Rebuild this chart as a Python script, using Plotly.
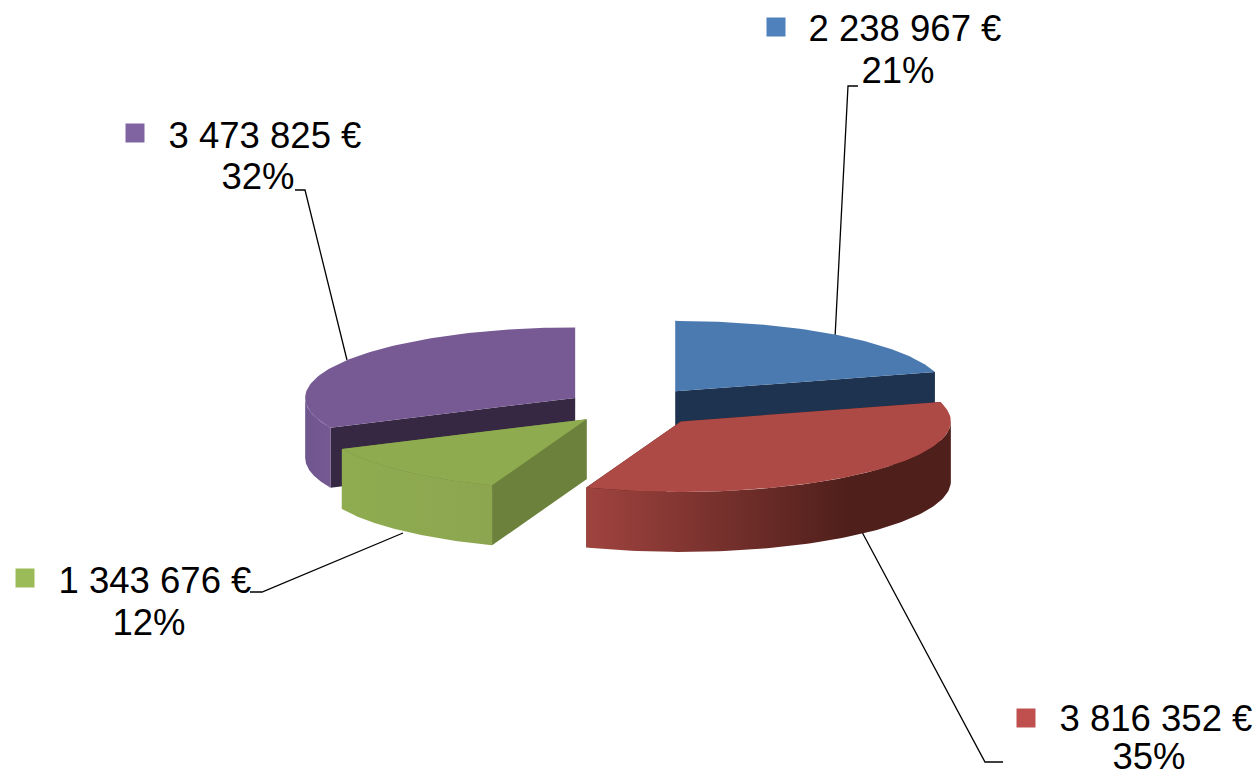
import numpy as np
import plotly.graph_objects as go

# Budget split shown as an exploded, tilted pie
values = [2238967, 3816352, 1343676, 3473825]
percent_labels = ["21%", "35%", "12%", "32%"]

top_colors = ["#4a7ab0", "#ae4a45", "#8eab50", "#775a94"]
cut_colors = ["#1d334f", "#4f1f1b", "#6c813c", "#362842"]
key_colors = ["#4f81bd", "#c0504d", "#9bbb59", "#8064a2"]
side_scales = [
    [[0, "#2f4d73"], [1, "#2f4d73"]],
    [[0, "#a0433f"], [0.72, "#4f1f1b"], [1, "#4f1f1b"]],
    [[0, "#8fac50"], [1, "#8ca650"]],
    [[0, "#70568f"], [1, "#745993"]],
]

# Pie geometry, in page pixels
CENTER = (630, 407)
RX, RY = 270, 70.5
DEPTH = 60
PULL = [75, 75, 64, 65]

# Value text centre, percent text centre, key square, leader polyline
value_pos = [(905, 32), (1156, 722), (155, 584), (265, 139)]
percent_pos = [(898, 74), (1149, 760), (149, 626), (258, 180)]
key_pos = [(776, 27), (1026, 718), (25, 578), (135, 133)]
leaders = [
    ([858, 848, 835], [86, 86, 338]),
    ([1003, 985, 862], [762, 762, 532]),
    ([250, 262, 403], [592, 592, 533]),
    ([295, 305, 347], [190, 190, 360]),
]


def rim(cx, cy, a0, a1, n=90):
    """Points on the ellipse, angles in degrees clockwise from 12 o'clock."""
    t = np.radians(np.linspace(a0, a1, n))
    return cx + RX * np.sin(t), cy - RY * np.cos(t)


def polygon(x, y, **kwargs):
    return go.Scatter(
        x=x, y=y, mode="lines", fill="toself", line=dict(width=0),
        hoverinfo="skip", showlegend=False, **kwargs,
    )


fig = go.Figure()

for xs, ys in leaders:
    fig.add_trace(go.Scatter(x=xs, y=ys, mode="lines", line=dict(color="#000000", width=1.3),
                             hoverinfo="skip", showlegend=False))

total = sum(values)
edges = np.concatenate([[0], np.cumsum(values) / total * 360])

# Back slices first so the nearer ones overlap them
for i in [0, 3, 2, 1]:
    a0, a1 = edges[i], edges[i + 1]
    mid = np.radians((a0 + a1) / 2)
    cx = CENTER[0] + PULL[i] * np.sin(mid)
    cy = CENTER[1] - PULL[i] * np.cos(mid) * RY / RX

    # Cut faces along both radii
    for a in (a1, a0):
        ex, ey = rim(cx, cy, a, a, 1)
        fig.add_trace(polygon(
            [cx, ex[0], ex[0], cx, cx],
            [cy, ey[0], ey[0] + DEPTH, cy + DEPTH, cy],
            fillcolor=cut_colors[i],
        ))

    # Outer wall: only the arc on the near half of the ellipse shows
    s0, s1 = max(a0, 90), min(a1, 270)
    if s1 > s0:
        ax, ay = rim(cx, cy, s0, s1)
        fig.add_trace(polygon(
            np.concatenate([ax, ax[::-1], ax[:1]]),
            np.concatenate([ay, ay[::-1] + DEPTH, ay[:1]]),
            fillgradient=dict(type="horizontal", colorscale=side_scales[i]),
        ))

    # Top surface
    ax, ay = rim(cx, cy, a0, a1)
    fig.add_trace(polygon(
        np.concatenate([[cx], ax, [cx]]),
        np.concatenate([[cy], ay, [cy]]),
        fillcolor=top_colors[i],
    ))

# Data labels with their colour keys
font = dict(family="Liberation Sans, Arial, sans-serif", size=36.5, color="#000000")
for i, v in enumerate(values):
    fig.add_trace(go.Scatter(
        x=[key_pos[i][0]], y=[key_pos[i][1]], mode="markers",
        marker=dict(symbol="square", size=19, color=key_colors[i], line=dict(width=0)),
        hoverinfo="skip", showlegend=False,
    ))
    label = f"{v:,}".replace(",", " ") + " €"
    fig.add_trace(go.Scatter(
        x=[value_pos[i][0], percent_pos[i][0]],
        y=[value_pos[i][1], percent_pos[i][1]],
        mode="text", text=[label, percent_labels[i]], textposition="middle center",
        textfont=font, cliponaxis=False, hoverinfo="skip", showlegend=False,
    ))

fig.update_layout(
    width=1256, height=778,
    margin=dict(l=0, r=0, t=0, b=0),
    paper_bgcolor="#ffffff", plot_bgcolor="#ffffff",
    xaxis=dict(range=[0, 1256], visible=False, fixedrange=True),
    yaxis=dict(range=[778, 0], visible=False, fixedrange=True),
)

fig.write_html("out.html", config={"displayModeBar": False})
